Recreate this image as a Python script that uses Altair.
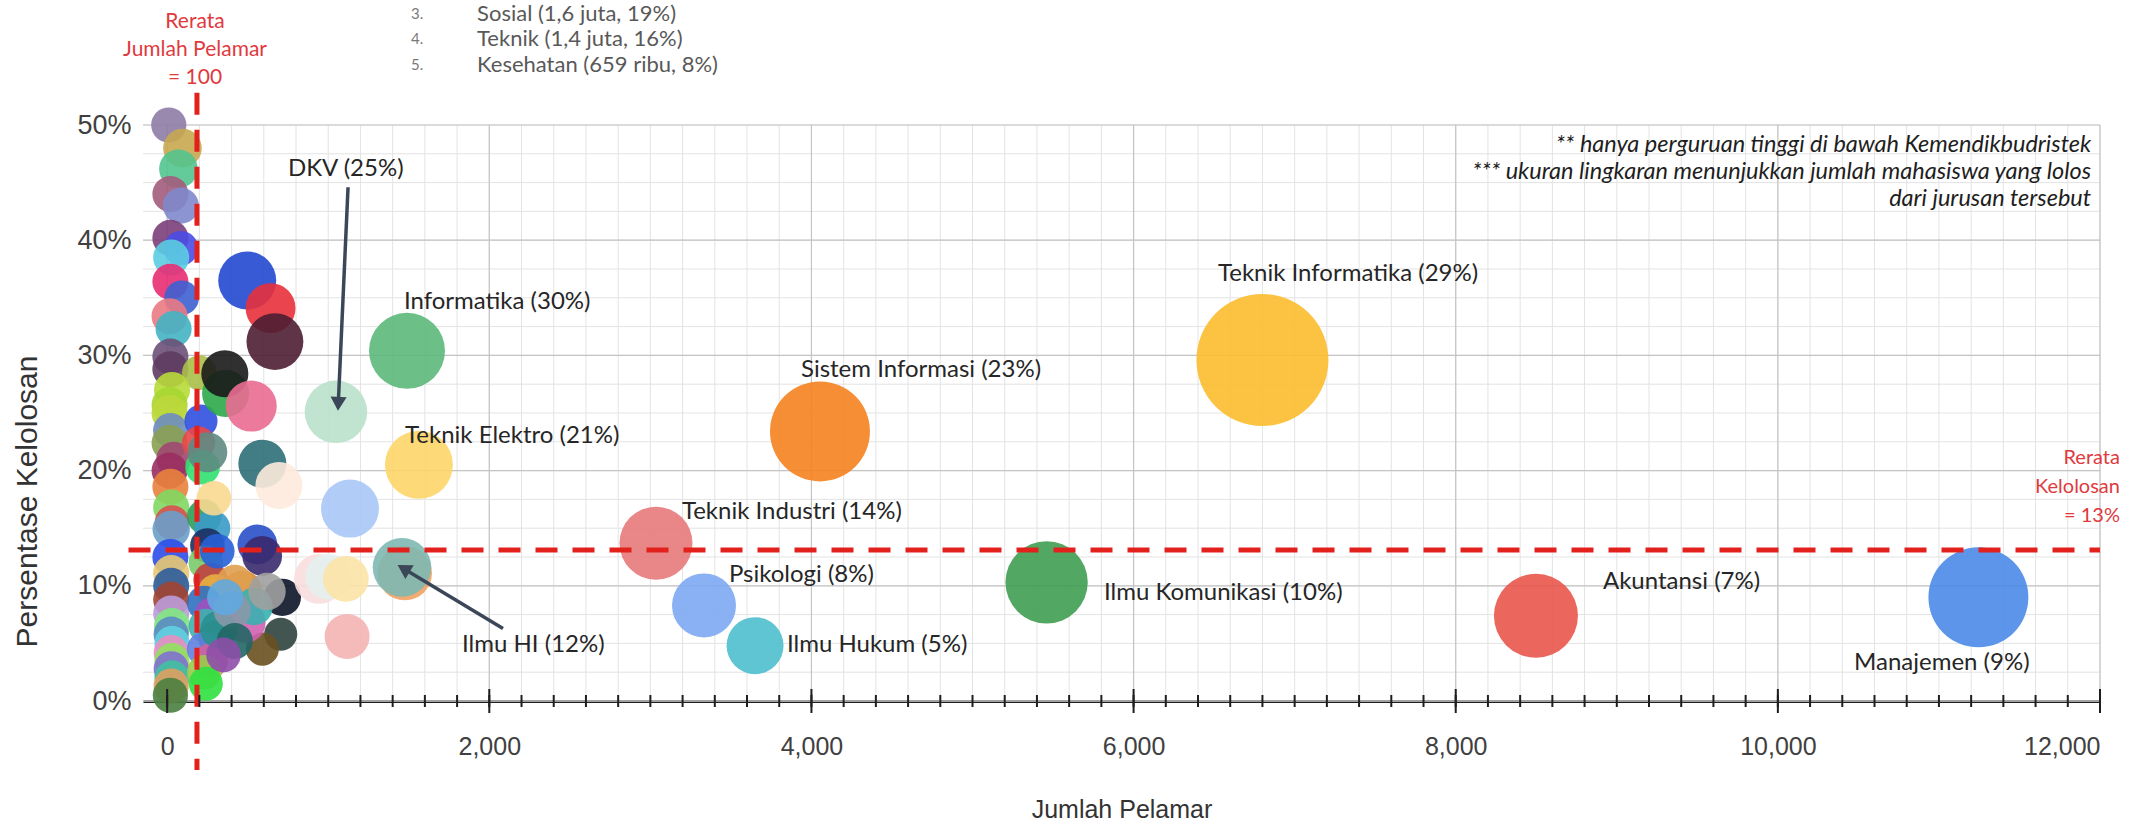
import altair as alt
import pandas as pd

# ---------------- bubble data ----------------
# jumlah pelamar, persentase kelolosan (%), jumlah lolos, warna
pelamar = [
    # dense column near zero
    10, 95, 70, 20, 85, 20, 85, 25, 20, 90, 15, 40, 20, 20, 200, 30, 15, 15, 20, 15,
    40, 15, 20, 25, 30, 25, 20, 25, 25, 25, 25, 30, 25, 30, 25, 30, 25, 30, 25, 20,
    # second column just right of the mean line
    210, 195, 220, 230, 280, 250, 240, 270, 300, 230, 280, 240, 300, 230, 270, 230, 240,
    # middle cluster
    497, 642, 669, 363, 358, 522, 249, 591, 694, 290, 560, 590, 311, 466, 420, 715, 705,
    591, 487, 540, 321, 404, 360, 620, 420, 350,
    # pale bubbles
    943, 1000, 1109, 1135, 1117, 1475,
    # labelled majors
    1458, 1048, 1489, 1563, 3035, 3333, 3650, 4053, 5460, 6800, 8498, 11245,
]
persen = [
    50.0, 48.0, 46.2, 44.0, 43.0, 40.2, 39.3, 38.5, 36.4, 35.0, 33.4, 32.3, 29.9, 28.8, 28.5, 27.0,
    25.7, 25.0, 23.5, 22.4, 21.0, 20.0, 18.6, 16.8, 15.5, 14.9, 12.5, 11.1, 10.0, 8.8, 7.6, 6.5,
    5.8, 5.0, 4.2, 3.5, 2.8, 2.0, 1.3, 0.5,
    24.3, 22.4, 20.3, 16.0, 15.0, 13.5, 12.0, 10.5, 9.5, 8.5, 7.5, 6.5, 5.5, 4.5, 3.5, 2.5, 1.5,
    36.5, 34.1, 31.2, 26.7, 28.4, 25.6, 21.6, 20.6, 18.7, 17.6, 13.6, 12.6, 13.0, 9.6, 10.2, 9.0,
    5.8, 4.5, 6.8, 8.2, 6.2, 7.9, 9.0, 9.5, 5.2, 4.0,
    10.6, 10.8, 10.6, 16.7, 5.6, 11.1,
    11.6, 25.1, 30.4, 20.5, 13.7, 8.3, 4.8, 23.4, 10.3, 29.6, 7.4, 9.0,
]
lolos = [
    42, 55, 55, 45, 45, 45, 40, 45, 45, 40, 45, 45, 45, 45, 40, 45, 45, 45, 40, 45,
    40, 45, 45, 45, 40, 50, 45, 45, 45, 45, 45, 45, 42, 42, 42, 42, 42, 42, 42, 42,
    35, 35, 40, 40, 45, 40, 40, 40, 40, 40, 40, 40, 40, 40, 40, 40, 38,
    180, 116, 170, 98, 98, 124, 61, 104, 98, 40, 60, 60, 40, 61, 50, 50, 35,
    35, 61, 50, 50, 50, 45, 50, 45, 40,
    116, 90, 90, 180, 86, 150,
    185, 224, 396, 286, 352, 240, 171, 880, 500, 1980, 530, 880,
]
warna = [
    "#8E7CA6", "#C8A850", "#52C48E", "#A25C7C", "#7F88CC", "#7B3F7A", "#4A4CE6", "#5BCDE2",
    "#E82C72", "#3E60D2", "#EA7A84", "#42B4C2", "#6C5078", "#5E3C62", "#AABF48", "#B8DA38",
    "#A6D632", "#BCD83C", "#6E8CC0", "#8AA052", "#9E4870", "#9A2E62", "#E8823C", "#80D862",
    "#D85050", "#6A9ECA", "#2E4EEA", "#E8C872", "#2C5C9C", "#A24432", "#BA9CDA", "#82E882",
    "#5A8CC2", "#60D0E0", "#E890C0", "#90E060", "#8070D0", "#40C0A0", "#E0A060", "#4A8040",
    "#3050E0", "#E84848", "#30E070", "#2E9E58", "#3A9AC8", "#1C3060", "#7ACB6A", "#C04040",
    "#E8B040", "#3070C0", "#A050C0", "#40B0B0", "#2A7A70", "#6080E0", "#D060A0", "#9ACA4A",
    "#30E040",
    "#2248D0", "#E8303C", "#4E1E32", "#2CA84A", "#1A1A1A", "#EA6C92", "#5E8A82", "#2E6E78",
    "#FDEADC", "#FAD890", "#2A50C8", "#3A2A6E", "#2860D8", "#D88A30", "#E0A050", "#0C1428",
    "#2F423E", "#6A5020", "#D062B0", "#3AB0B0", "#2A9090", "#8898A8", "#60A8E0", "#A0A0A0",
    "#226666", "#8E4FA8",
    "#F9DEDE", "#E4F1EF", "#FCE3A6", "#A9C6F5", "#F4B4B2", "#F2A262",
    "#7DB8B2", "#B9E1CA", "#5DB87B", "#FDD668", "#E7797A", "#7CA9F2", "#4FBFCD", "#F5821F",
    "#3F9F52", "#FBBC2C", "#E9554B", "#4A89E8",
]

# ---------------- labels ----------------
label_text = ["Teknik Informatika (29%)", "Sistem Informasi (23%)", "Informatika (30%)",
              "DKV (25%)", "Teknik Elektro (21%)", "Teknik Industri (14%)", "Psikologi (8%)",
              "Ilmu Hukum (5%)", "Ilmu Komunikasi (10%)", "Akuntansi (7%)", "Manajemen (9%)",
              "Ilmu HI (12%)"]
label_x = [6524, 3935, 1470, 750, 1477, 3196, 3488, 3848, 5816, 8914, 10473, 1831]
label_y = [37.1, 28.7, 34.6, 46.2, 23.0, 16.4, 10.9, 4.9, 9.4, 10.3, 3.3, 4.9]

# arrows (start -> tip) and arrowhead angle
arrow_x = [1123, 2085]
arrow_y = [44.6, 6.3]
arrow_x2 = [1063, 1480]
arrow_y2 = [26.0, 11.4]
arrow_angle = [182.6, 301]

# mean lines
rerata_pelamar = 185
rerata_kelolosan = 13.1

# axis ticks / grid values
x_major = [0, 2000, 4000, 6000, 8000, 10000, 12000]
x_minor = list(range(0, 12001, 200))
y_major = [0, 10, 20, 30, 40, 50]
y_minor = [i * 2.5 for i in range(21)]

notes = ["** hanya perguruan tinggi di bawah Kemendikbudristek",
         "*** ukuran lingkaran menunjukkan jumlah mahasiswa yang lolos",
         "dari jurusan tersebut"]
notes_y = [48.3, 45.9, 43.6]

top_num = ["3.", "4.", "5."]
top_items = ["Sosial (1,6 juta, 19%)", "Teknik (1,4 juta, 16%)", "Kesehatan (659 ribu, 8%)"]
top_y = [59.6, 57.5, 55.2]

# ---------------- build ----------------
XD = [-150, 12000]
YD = [0, 50]
xs = alt.Scale(domain=XD, nice=False, zero=False)
ys = alt.Scale(domain=YD, nice=False, zero=False)
XT = "Jumlah Pelamar"
YT = "Persentase Kelolosan"

bub = pd.DataFrame({"pelamar": pelamar, "persen": persen, "lolos": lolos, "warna": warna})
bub["urut"] = list(range(len(bub)))


def X(f, **kw):
    return alt.X(f, scale=xs, title=XT, **kw)


def Y(f, **kw):
    return alt.Y(f, scale=ys, title=YT, **kw)


def vgrid(vals, color, w):
    df = pd.DataFrame({"x": vals, "y": [YD[0]] * len(vals), "y2": [YD[1]] * len(vals)})
    return alt.Chart(df).mark_rule(color=color, strokeWidth=w).encode(
        x=X("x:Q"), y=Y("y:Q"), y2="y2:Q")


def hgrid(vals, color, w):
    df = pd.DataFrame({"y": vals, "x": [XD[0]] * len(vals), "x2": [XD[1]] * len(vals)})
    return alt.Chart(df).mark_rule(color=color, strokeWidth=w).encode(
        y=Y("y:Q"), x=X("x:Q"), x2="x2:Q")


x_axis = alt.Axis(values=x_major, labelExpr="format(datum.value, ',')", grid=False, ticks=False,
                  domain=True, domainColor="#1E1E1E", domainWidth=3,
                  labelFont="Liberation Sans", labelFontSize=25,
                  labelColor="#404040", labelPadding=33,
                  titleFont="Liberation Sans", titleFontSize=25,
                  titleColor="#333333", titleFontWeight="normal",
                  titleY=108, titleBaseline="middle")
y_axis = alt.Axis(values=y_major, labelExpr="datum.value + '%'", grid=False,
                  ticks=False, domain=False, labelFont="Liberation Sans",
                  labelFontSize=27, labelColor="#404040", labelPadding=12,
                  titleFont="Liberation Sans", titleFontSize=30,
                  titleColor="#333333", titleFontWeight="normal",
                  titleX=-116, titleY=376, titleBaseline="middle")

vminor = vgrid(x_minor, "#E3E3E3", 1)
hminor = hgrid(y_minor, "#E3E3E3", 1)
vmajor = vgrid(x_major, "#C4C4C4", 1.2)
hmajor = hgrid(y_major, "#C4C4C4", 1.2)

# first layer carries the axes
axes_layer = alt.Chart(pd.DataFrame({"x": [XD[0]], "y": [YD[0]]})).mark_point(opacity=0).encode(
    x=X("x:Q", axis=x_axis), y=Y("y:Q", axis=y_axis))

bubbles = alt.Chart(bub).mark_circle(opacity=0.9).encode(
    x=X("pelamar:Q"),
    y=Y("persen:Q"),
    size=alt.Size("lolos:Q", scale=alt.Scale(type="pow", exponent=0.686, domain=[0, 2000],
                                             range=[0, 17550]), legend=None),
    color=alt.Color("warna:N", scale=None),
    order=alt.Order("urut:Q"),
)

red = "#E2211C"
vline = alt.Chart(pd.DataFrame({"x": [rerata_pelamar], "y": [52.8], "y2": [-6.0]})).mark_rule(
    color=red, strokeWidth=5, strokeDash=[22, 15]).encode(
    x=X("x:Q"), y=Y("y:Q"), y2="y2:Q")
hline = alt.Chart(pd.DataFrame({"y": [rerata_kelolosan], "x": [-240], "x2": [12000]})).mark_rule(
    color=red, strokeWidth=5, strokeDash=[22, 15]).encode(
    y=Y("y:Q"), x=X("x:Q"), x2="x2:Q")

tick_minor = alt.Chart(pd.DataFrame({"x": x_minor, "y": [0] * len(x_minor)})).mark_tick(
    orient="vertical", size=12, thickness=2, color="#1E1E1E", opacity=1).encode(
    x=X("x:Q"), y=Y("y:Q"))
tick_major = alt.Chart(pd.DataFrame({"x": x_major, "y": [0] * len(x_major)})).mark_tick(
    orient="vertical", size=24, thickness=2, color="#1E1E1E", opacity=1).encode(
    x=X("x:Q"), y=Y("y:Q"))

labels = alt.Chart(pd.DataFrame({"t": label_text, "x": label_x, "y": label_y})).mark_text(
    align="left", baseline="middle", font="Lato", fontSize=24, color="#262626").encode(
    x=X("x:Q"), y=Y("y:Q"), text="t:N")

arrows = alt.Chart(pd.DataFrame({"x": arrow_x, "y": arrow_y, "x2": arrow_x2, "y2": arrow_y2})).mark_rule(
    color="#3B4758", strokeWidth=3.5).encode(
    x=X("x:Q"), y=Y("y:Q"), x2="x2:Q", y2="y2:Q")
heads = alt.Chart(pd.DataFrame({"x": arrow_x2, "y": arrow_y2, "a": arrow_angle})).mark_point(
    shape="triangle", filled=True, size=260, color="#3B4758", opacity=1).encode(
    x=X("x:Q"), y=Y("y:Q"), angle=alt.Angle("a:Q", scale=None))


def texts(t, xv, yv, **mk):
    df = pd.DataFrame({"t": t, "x": [xv] * len(t), "y": yv})
    return alt.Chart(df).mark_text(baseline="middle", **mk).encode(
        x=X("x:Q"), y=Y("y:Q"), text="t:N")


note_txt = texts(notes, 11945, notes_y, align="right", font="Lato", fontStyle="italic",
                 fontSize=23.5, color="#1E1E1E")
mean_x_txt = texts(["Rerata", "Jumlah Pelamar", "= 100"], 173, [58.9, 56.5, 54.1],
                   align="center", font="Lato", fontSize=21, color="#E03A3E")
mean_y_txt = texts(["Rerata", "Kelolosan", "= 13%"], 12124, [21.1, 18.6, 16.1],
                   align="right", font="Lato", fontSize=20, color="#E03A3E")
top_n = texts(top_num, 1514, top_y, align="left", font="Lato", fontSize=15, color="#7A7A7A")
top_t = texts(top_items, 1924, top_y, align="left", font="Lato", fontSize=22, color="#595959")

chart = alt.layer(
    axes_layer, vminor, hminor, vmajor, hmajor, bubbles, labels, arrows, heads, vline, hline,
    tick_minor, tick_major, note_txt, mean_x_txt, mean_y_txt, top_n, top_t,
).properties(
    width=1957, height=576,
    padding={"left": 143, "top": 125, "right": 42, "bottom": 121},
    autosize=alt.AutoSizeParams(type="none"),
    background="white",
).configure_view(stroke=None)

chart.save("out.html", embed_options={"renderer": "svg", "actions": False})
